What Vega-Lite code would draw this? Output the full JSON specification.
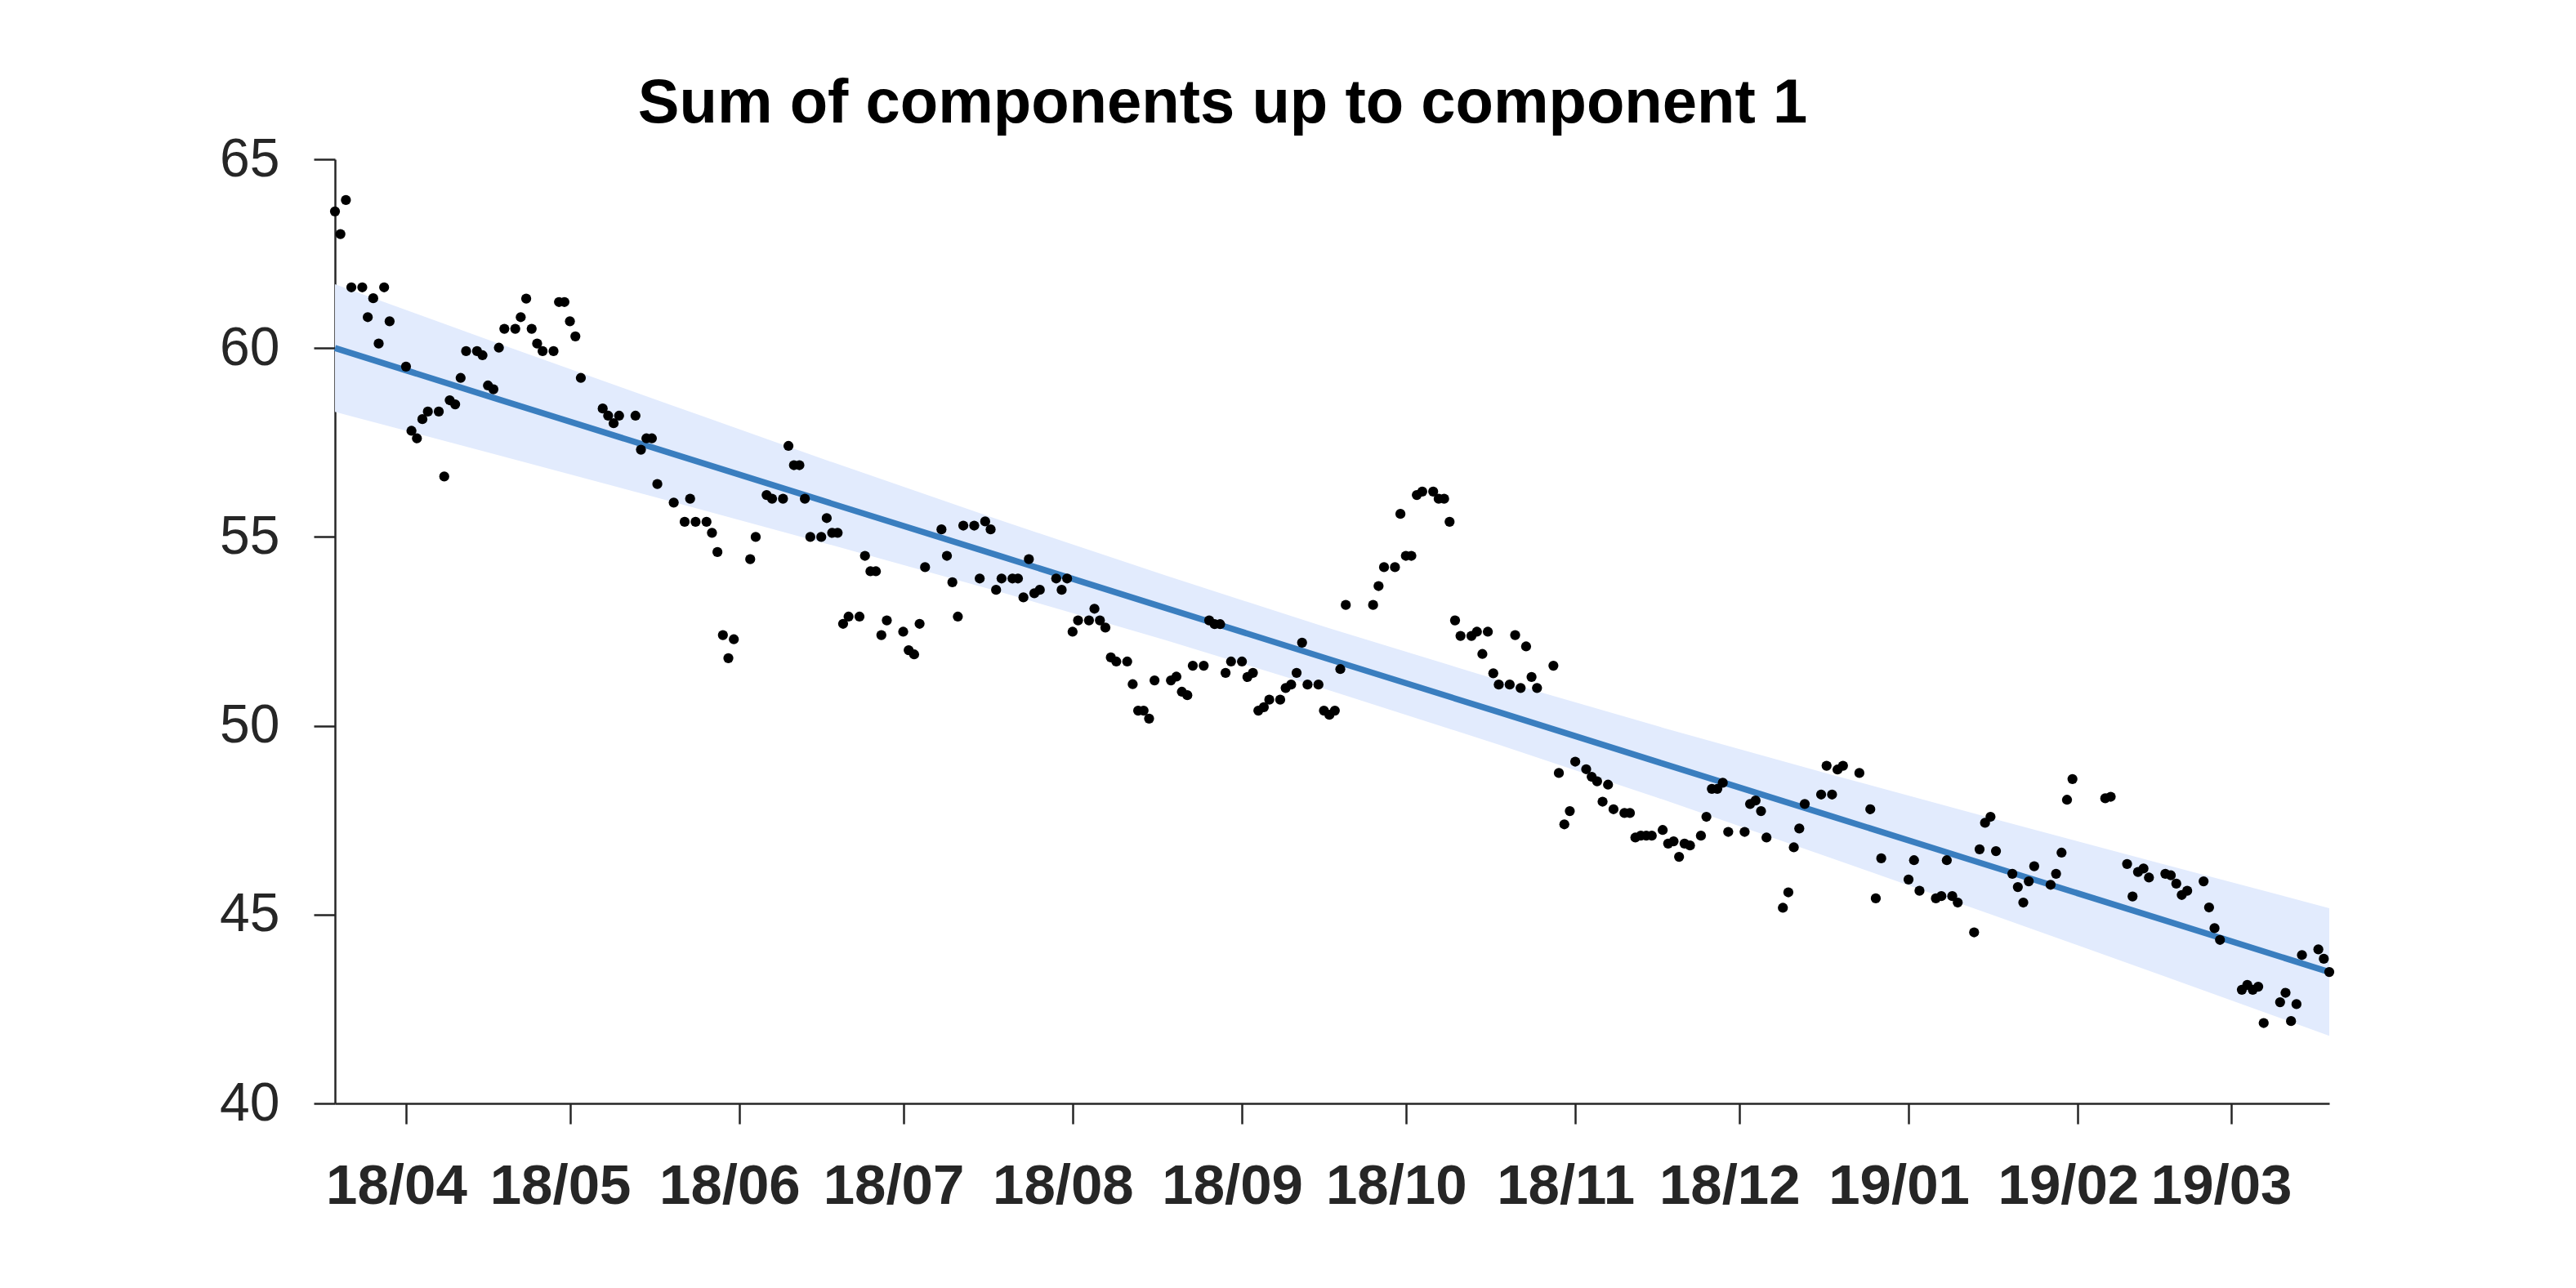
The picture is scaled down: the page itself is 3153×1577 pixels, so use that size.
{
  "$schema": "https://vega.github.io/schema/vega-lite/v6.json",
  "width": 2441,
  "height": 1156,
  "autosize": {"type": "none"},
  "padding": {"left": 410, "top": 195, "right": 302, "bottom": 226},
  "background": "white",
  "title": {
    "text": "Sum of components up to component 1",
    "font": "Liberation Sans",
    "fontSize": 76,
    "fontWeight": "bold",
    "color": "black",
    "anchor": "middle",
    "dx": -134,
    "offset": -4
  },
  "config": {
    "view": {"stroke": null},
    "axis": {
      "grid": false,
      "domainColor": "#262626",
      "domainWidth": 2.5,
      "tickColor": "#262626",
      "tickWidth": 2.5,
      "labelColor": "#262626",
      "labelFont": "Liberation Sans",
      "titleFont": "Liberation Sans",
      "labelLimit": 0
    },
    "axisX": {"tickSize": 25, "labelFontSize": 69, "labelFontWeight": "bold", "labelPadding": 42, "labelFlush": false, "labelOffset": -12},
    "axisY": {"tickSize": 26, "labelFontSize": 66, "labelFontWeight": "normal", "labelPadding": 42}
  },
  "datasets": {
    "band": [
      {"date": "2018-03-19", "fit": 60.00, "lo": 58.31, "hi": 61.69},
      {"date": "2018-04-18", "fit": 58.64, "lo": 57.16, "hi": 60.12},
      {"date": "2018-05-19", "fit": 57.24, "lo": 55.96, "hi": 58.52},
      {"date": "2018-06-18", "fit": 55.88, "lo": 54.78, "hi": 56.98},
      {"date": "2018-07-19", "fit": 54.48, "lo": 53.53, "hi": 55.43},
      {"date": "2018-08-18", "fit": 53.12, "lo": 52.27, "hi": 53.98},
      {"date": "2018-09-17", "fit": 51.76, "lo": 50.94, "hi": 52.58},
      {"date": "2018-10-18", "fit": 50.36, "lo": 49.50, "hi": 51.21},
      {"date": "2018-11-17", "fit": 49.00, "lo": 48.05, "hi": 49.95},
      {"date": "2018-12-18", "fit": 47.60, "lo": 46.49, "hi": 48.70},
      {"date": "2019-01-17", "fit": 46.24, "lo": 44.96, "hi": 47.52},
      {"date": "2019-02-17", "fit": 44.84, "lo": 43.36, "hi": 46.32},
      {"date": "2019-03-19", "fit": 43.48, "lo": 41.79, "hi": 45.17}
    ],
    "pts": [
      {"date": "2018-03-19", "v": 63.62}, {"date": "2018-03-20", "v": 63.02}, {"date": "2018-03-21", "v": 63.92},
      {"date": "2018-03-22", "v": 61.61}, {"date": "2018-03-24", "v": 61.61}, {"date": "2018-03-25", "v": 60.82},
      {"date": "2018-03-26", "v": 61.32}, {"date": "2018-03-27", "v": 60.12}, {"date": "2018-03-28", "v": 61.61},
      {"date": "2018-03-29", "v": 60.71}, {"date": "2018-04-01", "v": 59.51}, {"date": "2018-04-02", "v": 57.81},
      {"date": "2018-04-03", "v": 57.61}, {"date": "2018-04-04", "v": 58.12}, {"date": "2018-04-05", "v": 58.32},
      {"date": "2018-04-07", "v": 58.32}, {"date": "2018-04-08", "v": 56.60}, {"date": "2018-04-09", "v": 58.62},
      {"date": "2018-04-10", "v": 58.51}, {"date": "2018-04-11", "v": 59.21}, {"date": "2018-04-12", "v": 59.92},
      {"date": "2018-04-14", "v": 59.92}, {"date": "2018-04-15", "v": 59.81}, {"date": "2018-04-16", "v": 59.01},
      {"date": "2018-04-17", "v": 58.91}, {"date": "2018-04-18", "v": 60.01}, {"date": "2018-04-19", "v": 60.51},
      {"date": "2018-04-21", "v": 60.51}, {"date": "2018-04-22", "v": 60.82}, {"date": "2018-04-23", "v": 61.31},
      {"date": "2018-04-24", "v": 60.51}, {"date": "2018-04-25", "v": 60.12}, {"date": "2018-04-26", "v": 59.92},
      {"date": "2018-04-28", "v": 59.92}, {"date": "2018-04-29", "v": 61.22}, {"date": "2018-04-30", "v": 61.22},
      {"date": "2018-05-01", "v": 60.71}, {"date": "2018-05-02", "v": 60.31}, {"date": "2018-05-03", "v": 59.21},
      {"date": "2018-05-07", "v": 58.40}, {"date": "2018-05-08", "v": 58.21}, {"date": "2018-05-09", "v": 58.01},
      {"date": "2018-05-10", "v": 58.21}, {"date": "2018-05-13", "v": 58.21}, {"date": "2018-05-14", "v": 57.31},
      {"date": "2018-05-15", "v": 57.61}, {"date": "2018-05-16", "v": 57.61}, {"date": "2018-05-17", "v": 56.40},
      {"date": "2018-05-20", "v": 55.91}, {"date": "2018-05-22", "v": 55.40}, {"date": "2018-05-23", "v": 56.01},
      {"date": "2018-05-24", "v": 55.40}, {"date": "2018-05-26", "v": 55.40}, {"date": "2018-05-27", "v": 55.11},
      {"date": "2018-05-28", "v": 54.60}, {"date": "2018-05-29", "v": 52.40}, {"date": "2018-05-30", "v": 51.79},
      {"date": "2018-05-31", "v": 52.29}, {"date": "2018-06-03", "v": 54.41}, {"date": "2018-06-04", "v": 55.00},
      {"date": "2018-06-06", "v": 56.11}, {"date": "2018-06-07", "v": 56.01}, {"date": "2018-06-09", "v": 56.01},
      {"date": "2018-06-10", "v": 57.41}, {"date": "2018-06-11", "v": 56.90}, {"date": "2018-06-12", "v": 56.90},
      {"date": "2018-06-13", "v": 56.01}, {"date": "2018-06-14", "v": 55.00}, {"date": "2018-06-16", "v": 55.00},
      {"date": "2018-06-17", "v": 55.50}, {"date": "2018-06-18", "v": 55.11}, {"date": "2018-06-19", "v": 55.11},
      {"date": "2018-06-20", "v": 52.70}, {"date": "2018-06-21", "v": 52.89}, {"date": "2018-06-23", "v": 52.89},
      {"date": "2018-06-24", "v": 54.50}, {"date": "2018-06-25", "v": 54.09}, {"date": "2018-06-26", "v": 54.09},
      {"date": "2018-06-27", "v": 52.40}, {"date": "2018-06-28", "v": 52.79}, {"date": "2018-07-01", "v": 52.49},
      {"date": "2018-07-02", "v": 52.00}, {"date": "2018-07-03", "v": 51.89}, {"date": "2018-07-04", "v": 52.70},
      {"date": "2018-07-05", "v": 54.20}, {"date": "2018-07-08", "v": 55.20}, {"date": "2018-07-09", "v": 54.50},
      {"date": "2018-07-10", "v": 53.80}, {"date": "2018-07-11", "v": 52.89}, {"date": "2018-07-12", "v": 55.30},
      {"date": "2018-07-14", "v": 55.30}, {"date": "2018-07-15", "v": 53.90}, {"date": "2018-07-16", "v": 55.41},
      {"date": "2018-07-17", "v": 55.20}, {"date": "2018-07-18", "v": 53.60}, {"date": "2018-07-19", "v": 53.90},
      {"date": "2018-07-21", "v": 53.90}, {"date": "2018-07-22", "v": 53.90}, {"date": "2018-07-23", "v": 53.40},
      {"date": "2018-07-24", "v": 54.41}, {"date": "2018-07-25", "v": 53.51}, {"date": "2018-07-26", "v": 53.60},
      {"date": "2018-07-29", "v": 53.90}, {"date": "2018-07-30", "v": 53.60}, {"date": "2018-07-31", "v": 53.90},
      {"date": "2018-08-01", "v": 52.49}, {"date": "2018-08-02", "v": 52.79}, {"date": "2018-08-04", "v": 52.79},
      {"date": "2018-08-05", "v": 53.10}, {"date": "2018-08-06", "v": 52.79}, {"date": "2018-08-07", "v": 52.60},
      {"date": "2018-08-08", "v": 51.81}, {"date": "2018-08-09", "v": 51.70}, {"date": "2018-08-11", "v": 51.70},
      {"date": "2018-08-12", "v": 51.10}, {"date": "2018-08-13", "v": 50.40}, {"date": "2018-08-14", "v": 50.40},
      {"date": "2018-08-15", "v": 50.19}, {"date": "2018-08-16", "v": 51.20}, {"date": "2018-08-19", "v": 51.20},
      {"date": "2018-08-20", "v": 51.30}, {"date": "2018-08-21", "v": 50.90}, {"date": "2018-08-22", "v": 50.81},
      {"date": "2018-08-23", "v": 51.59}, {"date": "2018-08-25", "v": 51.59}, {"date": "2018-08-26", "v": 52.79},
      {"date": "2018-08-27", "v": 52.69}, {"date": "2018-08-28", "v": 52.69}, {"date": "2018-08-29", "v": 51.40},
      {"date": "2018-08-30", "v": 51.70}, {"date": "2018-09-01", "v": 51.70}, {"date": "2018-09-02", "v": 51.29},
      {"date": "2018-09-03", "v": 51.40}, {"date": "2018-09-04", "v": 50.40}, {"date": "2018-09-05", "v": 50.49},
      {"date": "2018-09-06", "v": 50.69}, {"date": "2018-09-08", "v": 50.69}, {"date": "2018-09-09", "v": 51.00},
      {"date": "2018-09-10", "v": 51.09}, {"date": "2018-09-11", "v": 51.40}, {"date": "2018-09-12", "v": 52.20},
      {"date": "2018-09-13", "v": 51.09}, {"date": "2018-09-15", "v": 51.09}, {"date": "2018-09-16", "v": 50.40},
      {"date": "2018-09-17", "v": 50.29}, {"date": "2018-09-18", "v": 50.40}, {"date": "2018-09-19", "v": 51.50},
      {"date": "2018-09-20", "v": 53.20}, {"date": "2018-09-25", "v": 53.20}, {"date": "2018-09-26", "v": 53.70},
      {"date": "2018-09-27", "v": 54.20}, {"date": "2018-09-29", "v": 54.20}, {"date": "2018-09-30", "v": 55.61},
      {"date": "2018-10-01", "v": 54.50}, {"date": "2018-10-02", "v": 54.50}, {"date": "2018-10-03", "v": 56.11},
      {"date": "2018-10-04", "v": 56.20}, {"date": "2018-10-06", "v": 56.20}, {"date": "2018-10-07", "v": 56.01},
      {"date": "2018-10-08", "v": 56.01}, {"date": "2018-10-09", "v": 55.40}, {"date": "2018-10-10", "v": 52.79},
      {"date": "2018-10-11", "v": 52.38}, {"date": "2018-10-13", "v": 52.38}, {"date": "2018-10-14", "v": 52.49},
      {"date": "2018-10-15", "v": 51.90}, {"date": "2018-10-16", "v": 52.49}, {"date": "2018-10-17", "v": 51.39},
      {"date": "2018-10-18", "v": 51.09}, {"date": "2018-10-20", "v": 51.09}, {"date": "2018-10-21", "v": 52.40},
      {"date": "2018-10-22", "v": 51.00}, {"date": "2018-10-23", "v": 52.10}, {"date": "2018-10-24", "v": 51.29},
      {"date": "2018-10-25", "v": 51.00}, {"date": "2018-10-28", "v": 51.59}, {"date": "2018-10-29", "v": 48.75},
      {"date": "2018-10-30", "v": 47.39}, {"date": "2018-10-31", "v": 47.74}, {"date": "2018-11-01", "v": 49.05},
      {"date": "2018-11-03", "v": 48.85}, {"date": "2018-11-04", "v": 48.65}, {"date": "2018-11-05", "v": 48.53},
      {"date": "2018-11-06", "v": 47.99}, {"date": "2018-11-07", "v": 48.44}, {"date": "2018-11-08", "v": 47.79},
      {"date": "2018-11-10", "v": 47.69}, {"date": "2018-11-11", "v": 47.69}, {"date": "2018-11-12", "v": 47.04},
      {"date": "2018-11-13", "v": 47.09}, {"date": "2018-11-14", "v": 47.09}, {"date": "2018-11-15", "v": 47.09},
      {"date": "2018-11-17", "v": 47.24}, {"date": "2018-11-18", "v": 46.88}, {"date": "2018-11-19", "v": 46.94},
      {"date": "2018-11-20", "v": 46.53}, {"date": "2018-11-21", "v": 46.88}, {"date": "2018-11-22", "v": 46.83},
      {"date": "2018-11-24", "v": 47.09}, {"date": "2018-11-25", "v": 47.59}, {"date": "2018-11-26", "v": 48.33},
      {"date": "2018-11-27", "v": 48.33}, {"date": "2018-11-28", "v": 48.49}, {"date": "2018-11-29", "v": 47.19},
      {"date": "2018-12-02", "v": 47.19}, {"date": "2018-12-03", "v": 47.93}, {"date": "2018-12-04", "v": 48.02},
      {"date": "2018-12-05", "v": 47.74}, {"date": "2018-12-06", "v": 47.04}, {"date": "2018-12-09", "v": 45.18},
      {"date": "2018-12-10", "v": 45.59}, {"date": "2018-12-11", "v": 46.78}, {"date": "2018-12-12", "v": 47.28},
      {"date": "2018-12-13", "v": 47.93}, {"date": "2018-12-16", "v": 48.18}, {"date": "2018-12-17", "v": 48.94},
      {"date": "2018-12-18", "v": 48.18}, {"date": "2018-12-19", "v": 48.84}, {"date": "2018-12-20", "v": 48.94},
      {"date": "2018-12-23", "v": 48.75}, {"date": "2018-12-25", "v": 47.79}, {"date": "2018-12-26", "v": 45.43},
      {"date": "2018-12-27", "v": 46.49}, {"date": "2019-01-01", "v": 45.93}, {"date": "2019-01-02", "v": 46.44},
      {"date": "2019-01-03", "v": 45.63}, {"date": "2019-01-06", "v": 45.43}, {"date": "2019-01-07", "v": 45.49},
      {"date": "2019-01-08", "v": 46.44}, {"date": "2019-01-09", "v": 45.49}, {"date": "2019-01-10", "v": 45.32},
      {"date": "2019-01-13", "v": 44.53}, {"date": "2019-01-14", "v": 46.73}, {"date": "2019-01-15", "v": 47.43},
      {"date": "2019-01-16", "v": 47.59}, {"date": "2019-01-17", "v": 46.68}, {"date": "2019-01-20", "v": 46.08},
      {"date": "2019-01-21", "v": 45.73}, {"date": "2019-01-22", "v": 45.32}, {"date": "2019-01-23", "v": 45.88},
      {"date": "2019-01-24", "v": 46.28}, {"date": "2019-01-27", "v": 45.79}, {"date": "2019-01-28", "v": 46.08},
      {"date": "2019-01-29", "v": 46.64}, {"date": "2019-01-30", "v": 48.04}, {"date": "2019-01-31", "v": 48.59},
      {"date": "2019-02-06", "v": 48.08}, {"date": "2019-02-07", "v": 48.12}, {"date": "2019-02-10", "v": 46.34},
      {"date": "2019-02-11", "v": 45.48}, {"date": "2019-02-12", "v": 46.13}, {"date": "2019-02-13", "v": 46.22},
      {"date": "2019-02-14", "v": 45.98}, {"date": "2019-02-17", "v": 46.08}, {"date": "2019-02-18", "v": 46.04},
      {"date": "2019-02-19", "v": 45.82}, {"date": "2019-02-20", "v": 45.52}, {"date": "2019-02-21", "v": 45.63},
      {"date": "2019-02-24", "v": 45.88}, {"date": "2019-02-25", "v": 45.19}, {"date": "2019-02-26", "v": 44.64},
      {"date": "2019-02-27", "v": 44.33}, {"date": "2019-03-03", "v": 43.01}, {"date": "2019-03-04", "v": 43.14},
      {"date": "2019-03-05", "v": 43.01}, {"date": "2019-03-06", "v": 43.09}, {"date": "2019-03-07", "v": 42.13},
      {"date": "2019-03-10", "v": 42.68}, {"date": "2019-03-11", "v": 42.93}, {"date": "2019-03-12", "v": 42.18},
      {"date": "2019-03-13", "v": 42.63}, {"date": "2019-03-14", "v": 43.93}, {"date": "2019-03-17", "v": 44.08},
      {"date": "2019-03-18", "v": 43.83}, {"date": "2019-03-19", "v": 43.48}
    ]
  },
  "encoding": {
    "x": {
      "field": "date",
      "type": "temporal",
      "scale": {
        "type": "utc",
        "nice": false,
        "domain": [
          {"year": 2018, "month": 3, "date": 19, "utc": true},
          {"year": 2019, "month": 3, "date": 19, "utc": true}
        ]
      },
      "axis": {
        "title": null,
        "labelExpr": "utcFormat(datum.value, '%y/%m')",
        "tickCount": {"interval": "month", "step": 1}
      }
    }
  },
  "layer": [
    {
      "data": {"name": "band"},
      "mark": {"type": "area", "color": "#e2ebfd", "opacity": 1},
      "encoding": {
        "y": {"field": "lo", "type": "quantitative", "scale": {"domain": [40, 65], "nice": false, "zero": false}, "axis": {"title": null, "values": [40, 45, 50, 55, 60, 65]}},
        "y2": {"field": "hi"}
      }
    },
    {
      "data": {"name": "band"},
      "mark": {"type": "line", "color": "#3a7ebf", "strokeWidth": 7.5},
      "encoding": {
        "y": {"field": "fit", "type": "quantitative", "scale": {"domain": [40, 65], "nice": false, "zero": false}, "axis": {"title": null, "values": [40, 45, 50, 55, 60, 65]}}
      }
    },
    {
      "data": {"name": "pts"},
      "mark": {"type": "circle", "size": 150, "color": "black", "opacity": 1},
      "encoding": {
        "y": {"field": "v", "type": "quantitative", "scale": {"domain": [40, 65], "nice": false, "zero": false}, "axis": {"title": null, "values": [40, 45, 50, 55, 60, 65]}}
      }
    }
  ]
}
